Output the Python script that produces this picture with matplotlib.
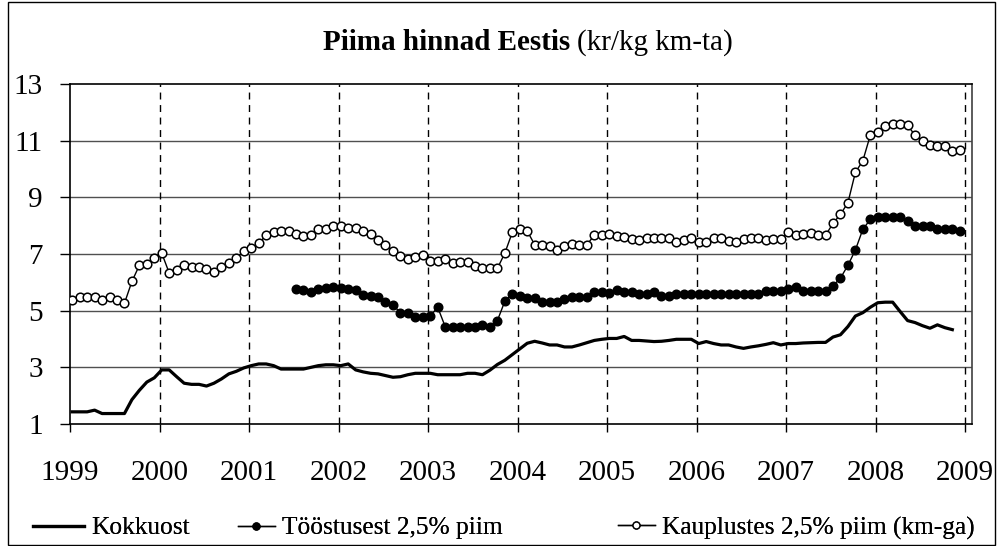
import numpy as np
import matplotlib
matplotlib.use("Agg")
import matplotlib.pyplot as plt
from matplotlib.lines import Line2D
from matplotlib.patches import Rectangle

plt.rcParams['font.family'] = ['Liberation Serif', 'DejaVu Serif']

# ---- data (monthly, Jan 1999 .. Dec 2008) ----
years = list(range(1999, 2010))
yticks = [1, 3, 5, 7, 9, 11, 13]

kokkuost = [
    1.43, 1.43, 1.43, 1.49, 1.37, 1.37, 1.37, 1.37, 1.86, 2.19, 2.48, 2.63,
    2.91, 2.91, 2.67, 2.44, 2.40, 2.40, 2.34, 2.44, 2.59, 2.77, 2.86, 2.98,
    3.06, 3.12, 3.12, 3.06, 2.94, 2.94, 2.94, 2.94, 3.00, 3.06, 3.09, 3.09,
    3.06, 3.12, 2.91, 2.84, 2.79, 2.77, 2.71, 2.65, 2.67, 2.74, 2.79, 2.79,
    2.79, 2.74, 2.74, 2.74, 2.74, 2.79, 2.79, 2.74, 2.90, 3.10, 3.25, 3.45,
    3.65, 3.85, 3.92, 3.86, 3.79, 3.79, 3.72, 3.72, 3.79, 3.87, 3.95, 3.99,
    4.02, 4.02, 4.09, 3.95, 3.95, 3.93, 3.91, 3.92, 3.95, 3.99, 3.99, 3.99,
    3.84, 3.91, 3.84, 3.79, 3.79, 3.72, 3.67, 3.72, 3.76, 3.81, 3.87, 3.79,
    3.84, 3.84, 3.86, 3.87, 3.88, 3.88, 4.07, 4.15, 4.44, 4.81, 4.93, 5.12,
    5.28, 5.30, 5.30, 4.97, 4.65, 4.58, 4.47, 4.38, 4.50, 4.40, 4.33, np.nan,
]

toostusest = [np.nan] * 30 + [
    5.77, 5.72, 5.65, 5.78, 5.81, 5.84,
    5.81, 5.78, 5.74, 5.55, 5.51, 5.47, 5.31, 5.20, 4.93, 4.93, 4.77, 4.77,
    4.81, 5.12, 4.44, 4.44, 4.44, 4.44, 4.44, 4.50, 4.42, 4.65, 5.33, 5.60,
    5.51, 5.45, 5.45, 5.31, 5.31, 5.31, 5.40, 5.47, 5.47, 5.47, 5.66, 5.66,
    5.63, 5.72, 5.66, 5.66, 5.60, 5.60, 5.66, 5.53, 5.51, 5.60, 5.60, 5.60,
    5.60, 5.60, 5.60, 5.60, 5.60, 5.60, 5.60, 5.60, 5.60, 5.70, 5.70, 5.70,
    5.76, 5.83, 5.71, 5.70, 5.70, 5.70, 5.88, 6.15, 6.60, 7.14, 7.87, 8.22,
    8.30, 8.30, 8.30, 8.30, 8.16, 7.99, 7.99, 7.99, 7.87, 7.87, 7.87, 7.81,
]

kauplustes = [
    5.37, 5.47, 5.47, 5.47, 5.36, 5.47, 5.37, 5.26, 6.03, 6.60, 6.65, 6.86,
    7.03, 6.33, 6.43, 6.60, 6.53, 6.53, 6.48, 6.36, 6.53, 6.70, 6.86, 7.09,
    7.22, 7.38, 7.66, 7.79, 7.81, 7.81, 7.70, 7.65, 7.66, 7.87, 7.87, 7.98,
    8.00, 7.93, 7.93, 7.81, 7.70, 7.49, 7.33, 7.12, 6.94, 6.81, 6.88, 6.97,
    6.77, 6.77, 6.83, 6.67, 6.72, 6.72, 6.59, 6.49, 6.49, 6.49, 7.03, 7.76,
    7.87, 7.81, 7.33, 7.33, 7.27, 7.14, 7.29, 7.37, 7.33, 7.33, 7.66, 7.66,
    7.72, 7.63, 7.60, 7.52, 7.49, 7.55, 7.55, 7.56, 7.56, 7.44, 7.49, 7.58,
    7.44, 7.41, 7.56, 7.56, 7.47, 7.41, 7.52, 7.58, 7.58, 7.49, 7.52, 7.52,
    7.78, 7.66, 7.70, 7.75, 7.66, 7.66, 8.08, 8.40, 8.81, 9.88, 10.29, 11.19,
    11.31, 11.50, 11.60, 11.60, 11.54, 11.19, 11.00, 10.86, 10.80, 10.80, 10.64, 10.68,
]

labels = ["Kokkuost", "Tööstusest 2,5% piim", "Kauplustes 2,5% piim (km-ga)"]
title_bold = "Piima hinnad Eestis"
title_rest = "(kr/kg km-ta)"

# ---- figure ----
fig = plt.figure(figsize=(10, 5.46), dpi=100)
ax = fig.add_axes([0.07, 0.2234, 0.902, 0.6228])

n = len(kauplustes)
x = 1999 + (np.arange(n) + 0.3) / 12.0

# grid
for yv in yticks[1:-1]:
    ax.axhline(yv, color='#505050', lw=1.0, zorder=1)
for yr in years[1:]:
    ax.axvline(yr, color='black', lw=1.0, ls=(0, (5, 4)), zorder=1)

ax.plot(x, kokkuost, color='black', lw=2.3, zorder=3, solid_joinstyle='round')
ax.plot(x, toostusest, color='black', lw=1.0, marker='o', ms=6.2,
        mfc='black', mec='black', zorder=4)
ax.plot(x, kauplustes, color='black', lw=1.0, marker='o', ms=6.2,
        mfc='white', mec='black', mew=1.1, zorder=4)

ax.set_xlim(1999, 2009.078)
ax.set_ylim(1, 13)
ax.set_xticks(years)
ax.set_xticklabels([str(y) for y in years])
ax.set_yticks(yticks)
ax.set_yticklabels([str(v) for v in yticks])
ax.tick_params(axis='x', direction='out', length=6, width=1, pad=20,
               labelsize=21)
ax.tick_params(axis='y', direction='out', length=7.5, width=1, pad=12,
               labelsize=21)
for s in ['left', 'bottom', 'top', 'right']:
    ax.spines[s].set_color('black')
    ax.spines[s].set_linewidth(1.2)
ax.spines['right'].set_color('#404040')

# legend (three entries placed like the Excel legend)
h1 = Line2D([], [], color='black', lw=2.3)
h2 = Line2D([], [], color='black', lw=1.0, marker='o', ms=5, mfc='black')
h3 = Line2D([], [], color='black', lw=1.0, marker='o', ms=5, mfc='white',
            mew=1.0)
leg_y = 1 - 528 / 546
for h, lab, x0, hl in [(h1, labels[0], 33, 2.0), (h2, labels[1], 238, 1.45),
                       (h3, labels[2], 618, 1.45)]:
    lg = fig.legend([h], [lab], loc='center left',
                    bbox_to_anchor=(x0 / 1000, leg_y), frameon=False,
                    fontsize=18.3, handlelength=hl, handletextpad=0.28,
                    borderpad=0, borderaxespad=0)
    fig.add_artist(lg)

# title (bold part + normal part)
fig.canvas.draw()
r = fig.canvas.get_renderer()
ty = 1 - 43 / 546
t1 = fig.text(0, ty, title_bold, fontsize=21, fontweight='bold',
              ha='left', va='center')
t2 = fig.text(0, ty, title_rest, fontsize=21, ha='left', va='center')
w1 = t1.get_window_extent(r).width
w2 = t2.get_window_extent(r).width
gap = 7
total = w1 + gap + w2
xs = 528 - total / 2
t1.set_x(xs / 1000)
t2.set_x((xs + w1 + gap) / 1000)

# outer frame
fig.patches.append(Rectangle((0.008, 0.002), 0.987, 0.994, transform=fig.transFigure,
                             fill=False, edgecolor='black', lw=1.0))

fig.savefig("out.png", dpi=100)
